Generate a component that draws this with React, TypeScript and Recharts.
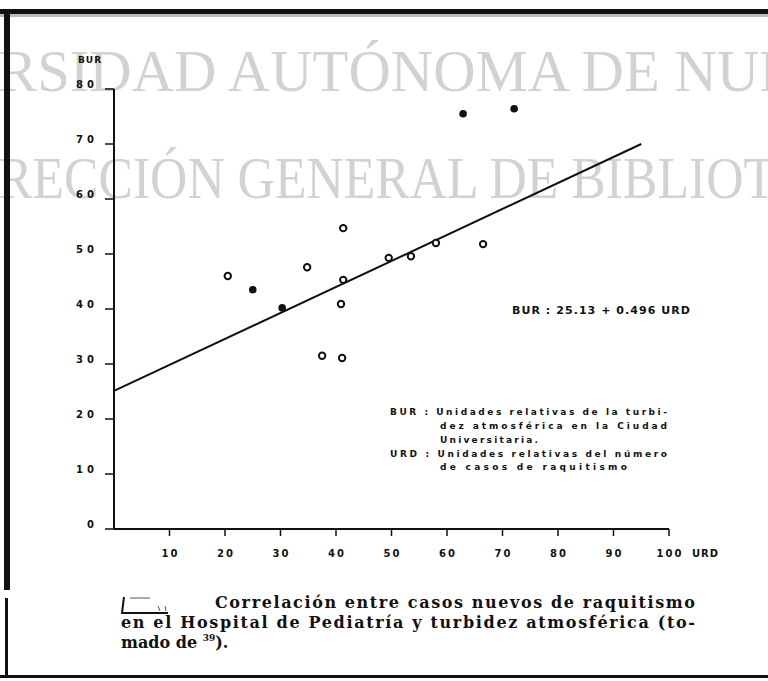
import React from 'react';
import { ScatterChart, Scatter, XAxis, YAxis, ReferenceLine } from 'recharts';

// Axis ticks
const xTicks = [10, 20, 30, 40, 50, 60, 70, 80, 90, 100];
const yTicks = [0, 10, 20, 30, 40, 50, 60, 70, 80];

// Observations drawn as open circles (URD, BUR)
const openUrd = [20.5, 34.8, 37.5, 41.1, 41.3, 41.3, 40.9, 49.5, 53.5, 58.0, 66.5];
const openBur = [46.0, 47.6, 31.5, 31.1, 54.7, 45.3, 40.9, 49.3, 49.6, 52.0, 51.8];

// Observations drawn as filled dots (URD, BUR)
const filledUrd = [25.0, 30.3, 62.9, 72.1];
const filledBur = [43.5, 40.2, 75.5, 76.4];

// Regression line ends as drawn (URD, BUR)
const fitUrd = [0, 95];
const fitBur = [25.1, 70.0];

const openData = openUrd.map((x, i) => ({ x, y: openBur[i] }));
const filledData = filledUrd.map((x, i) => ({ x, y: filledBur[i] }));

const INK = '#111';
const tickFont = 'DejaVu Sans, Arial, sans-serif';

const XTick = (props: any) => {
  const { x, y, payload } = props;
  return (
    <text x={x + 1} y={y + 19} textAnchor="middle" fontFamily={tickFont} fontWeight="bold"
      fontSize={10} letterSpacing={2} fill={INK}>{payload.value}</text>
  );
};

const YTick = (props: any) => {
  const { x, y, payload } = props;
  return (
    <text x={x - 5} y={y - 1} textAnchor="end" fontFamily={tickFont} fontWeight="bold"
      fontSize={10} letterSpacing={4} fill={INK}>{payload.value}</text>
  );
};

const OpenDot = (props: any) => (
  <circle cx={props.cx} cy={props.cy} r={3.2} fill="#fff" stroke={INK} strokeWidth={2} />
);
const FilledDot = (props: any) => (
  <circle cx={props.cx} cy={props.cy} r={3.8} fill={INK} />
);

const serif = 'DejaVu Serif, Liberation Serif, serif';
const smallSans = 'DejaVu Sans, Arial, sans-serif';

export default function App() {
  return (
    <div style={{ position: 'absolute', left: 0, top: 0, width: 768, height: 681, background: '#fff', overflow: 'hidden' }}>
      {/* watermark behind */}
      <svg width={768} height={681} style={{ position: 'absolute', left: 0, top: 0 }}>
        <text x={-2} y={91} fontFamily="Liberation Serif, serif" fontSize={60} fill="#d2d2d2"
          textLength={797} lengthAdjust="spacingAndGlyphs">RSIDAD AUTÓNOMA DE NUE</text>
        <text x={-2} y={198} fontFamily="Liberation Serif, serif" fontSize={60} fill="#d2d2d2"
          textLength={777} lengthAdjust="spacingAndGlyphs">RECCIÓN GENERAL DE BIBLIOT</text>
      </svg>

      <div style={{ position: 'absolute', left: 0, top: 0 }}>
        <ScatterChart width={768} height={681} margin={{ top: 89, right: 99, bottom: 122, left: 0 }}>
          <XAxis type="number" dataKey="x" domain={[0, 100]} ticks={xTicks} tickSize={7}
            height={30} allowDataOverflow
            axisLine={{ stroke: INK, strokeWidth: 2 }} tickLine={{ stroke: INK, strokeWidth: 1.5 }}
            tick={<XTick />} interval={0} />
          <YAxis type="number" dataKey="y" domain={[0, 80]} ticks={yTicks} tickSize={9}
            width={114} allowDataOverflow
            axisLine={{ stroke: INK, strokeWidth: 2 }} tickLine={{ stroke: INK, strokeWidth: 1.5 }}
            tick={<YTick />} interval={0} />
          <ReferenceLine
            segment={[{ x: fitUrd[0], y: fitBur[0] }, { x: fitUrd[1], y: fitBur[1] }]}
            stroke={INK} strokeWidth={2} ifOverflow="visible" />
          <Scatter data={openData} shape={<OpenDot />} isAnimationActive={false} />
          <Scatter data={filledData} shape={<FilledDot />} isAnimationActive={false} />
        </ScatterChart>
      </div>

      {/* labels, annotations, caption, frame */}
      <svg width={768} height={681} style={{ position: 'absolute', left: 0, top: 0 }}>
        <text x={78} y={63} fontFamily={smallSans} fontWeight="bold" fontSize={9} letterSpacing={1} fill={INK}>BUR</text>
        <text x={692} y={557} fontFamily={smallSans} fontWeight="bold" fontSize={10} letterSpacing={1} fill={INK}>URD</text>

        <text x={512} y={314} fontFamily={smallSans} fontWeight="bold" fontSize={11} fill={INK}
          textLength={178} lengthAdjust="spacing">BUR : 25.13 + 0.496 URD</text>

        <g fontFamily={smallSans} fontWeight="bold" fontSize={9} fill={INK}>
          <text x={390} y={415} textLength={277} lengthAdjust="spacing">BUR : Unidades relativas de la turbi-</text>
          <text x={440} y={429} textLength={227} lengthAdjust="spacing">dez atmosférica en la Ciudad</text>
          <text x={440} y={443} textLength={98} lengthAdjust="spacing">Universitaria.</text>
          <text x={390} y={457} textLength={277} lengthAdjust="spacing">URD : Unidades relativas del número</text>
          <text x={440} y={470} textLength={187} lengthAdjust="spacing">de casos de raquitismo</text>
        </g>

        {/* obliterated figure number */}
        <path d="M124 597 L122 613 L168 613" stroke={INK} strokeWidth={2} fill="none" />
        <path d="M130 598 L150 598 M158 606 L160 611 M165 606 L166 611" stroke="#555" strokeWidth={1} fill="none" />

        <g fontFamily={serif} fontWeight="bold" fontSize={16} fill={INK}>
          <text x={215} y={608} textLength={480} lengthAdjust="spacing">Correlación entre casos nuevos de raquitismo</text>
          <text x={121} y={628} textLength={574} lengthAdjust="spacing">en el Hospital de Pediatría y turbidez atmosférica (to-</text>
          <text x={121} y={648}>mado de <tspan fontSize={9} dy={-7}>39</tspan><tspan dy={7}>).</tspan></text>
        </g>

        {/* page frame */}
        <rect x={0} y={9} width={768} height={5} fill={INK} />
        <rect x={0} y={14} width={768} height={3} fill="#bbb" />
        <rect x={4} y={10} width={6} height={580} fill={INK} />
        <rect x={5} y={598} width={3} height={80} fill={INK} />
        <rect x={0} y={675} width={768} height={3} fill={INK} />
      </svg>
    </div>
  );
}
